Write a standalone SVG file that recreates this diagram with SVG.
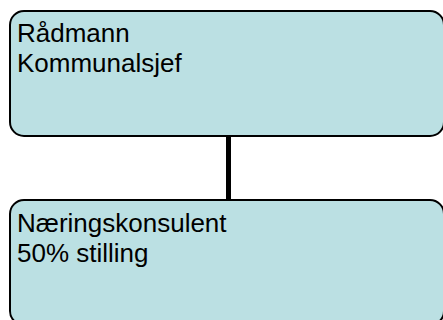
<svg xmlns="http://www.w3.org/2000/svg" width="443" height="320" viewBox="0 0 443 320">
<style>
.box{fill:#BBE0E3;stroke:#000;stroke-width:2}
.t{font-family:"Liberation Sans",Arial,sans-serif;font-size:26px;fill:#000}
.c{stroke:#000;stroke-width:5;fill:none}
</style>
<rect width="443" height="320" fill="#fff"/>
<g id="connectors">
<line class="c" x1="228.5" y1="136" x2="228.5" y2="200"/>
</g>
<g id="node-radmann">
<rect class="box" x="10" y="11" width="434" height="125" rx="14" ry="14"/>
<text class="t" x="17" y="42">Rådmann</text>
<text class="t" x="17" y="72">Kommunalsjef</text>
</g>
<g id="node-naeringskonsulent">
<rect class="box" x="10" y="200" width="434" height="125" rx="14" ry="14"/>
<text class="t" x="17" y="232">Næringskonsulent</text>
<text class="t" x="17" y="262">50% stilling</text>
</g>
</svg>
